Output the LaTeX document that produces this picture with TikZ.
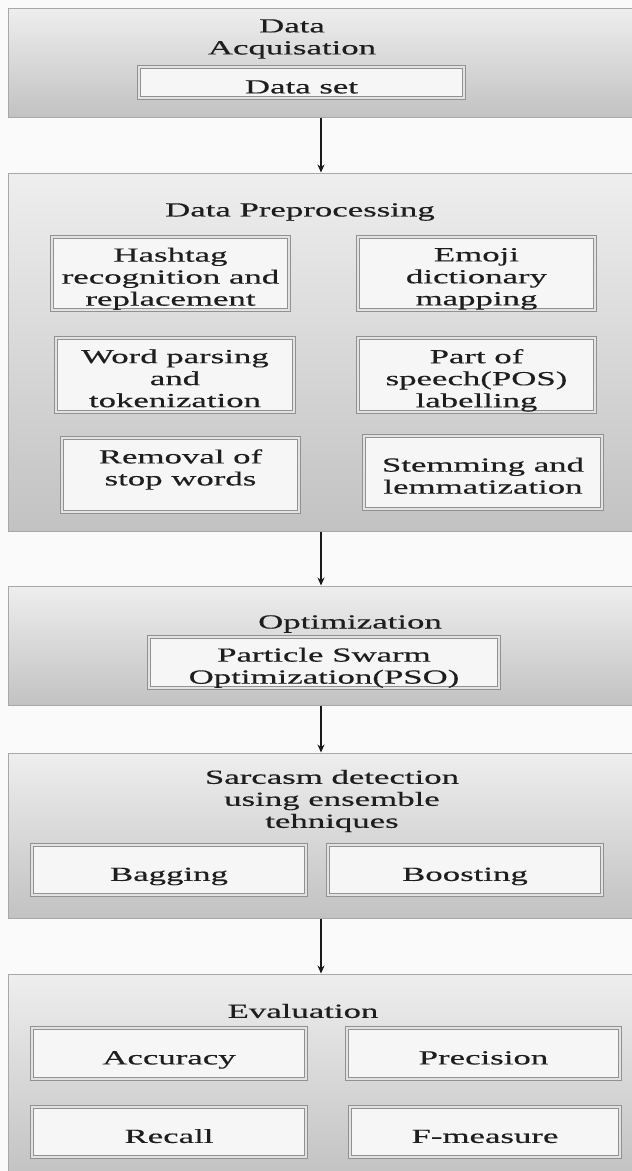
\documentclass[tikz,border=0pt]{standalone}
\usepackage{fontspec}
\setmainfont{Liberation Serif}[FakeStretch=1.74, FakeBold=0.4]
\usetikzlibrary{arrows.meta}
\definecolor{bgc}{RGB}{250,250,250}
\definecolor{topg}{RGB}{238,238,238}
\definecolor{botg}{RGB}{194,194,194}
\definecolor{edgeg}{RGB}{168,168,168}
\definecolor{inbg}{RGB}{246,246,246}
\definecolor{inedge}{RGB}{145,145,145}
\definecolor{ingap}{RGB}{226,226,226}
\definecolor{txtc}{RGB}{30,30,30}
\tikzset{
  outer/.style={draw=edgeg, line width=1pt, top color=topg, bottom color=botg, inner sep=0pt},
  inbox/.style={draw=inedge, line width=0.8pt, double=ingap, double distance=2pt, fill=inbg,
    inner sep=0pt},
  txt/.style={align=center, text=txtc, inner sep=0pt, font=\fontsize{20}{22}\selectfont},
  tl/.style={label={[txt,yshift=-6.5pt]center:{#1\strut}}},
  arr/.style={draw=black!90, line width=1.2pt, -{Stealth[length=8pt,width=7pt]}}
}
\begin{document}
\begin{tikzpicture}[x=1pt,y=-1pt]
\useasboundingbox[fill=bgc] (0,0) rectangle (632,1171);
% outer stages
\node[outer, minimum width=626pt, minimum height=109pt] (acq) at (321,62.5) {};
\node[outer, minimum width=626pt, minimum height=358pt] (prep) at (321,352) {};
\node[outer, minimum width=626pt, minimum height=119pt] (opt) at (321,645.5) {};
\node[outer, minimum width=626pt, minimum height=165pt] (sarc) at (321,835.5) {};
\node[outer, minimum width=626pt, minimum height=206pt] (eval) at (321,1077) {};
% titles
\node[txt] (acqt) at (292,39) {Data\\Acquisation};
\node[txt] (prept) at (300,212) {Data Preprocessing};
\node[txt] (optt) at (350,624) {Optimization};
\node[txt] (sarct) at (332,801) {Sarcasm detection\\using ensemble\\tehniques};
\node[txt] (evalt) at (303,1011) {Evaluation};
% inner boxes
\node[inbox, minimum width=325pt, minimum height=31pt, tl={Data set}] (ds) at (301.5,82.5) {};
\node[inbox, minimum width=237pt, minimum height=73pt, tl={Hashtag\\recognition and\\replacement}] (hash) at (170.5,273.5) {};
\node[inbox, minimum width=237pt, minimum height=73pt, tl={Emoji\\dictionary\\mapping}] (emo) at (476.5,273.5) {};
\node[inbox, minimum width=238pt, minimum height=74pt, tl={Word parsing\\and\\tokenization}] (word) at (175,375) {};
\node[inbox, minimum width=237pt, minimum height=74pt, tl={Part of\\speech(POS)\\labelling}] (pos) at (476.5,375) {};
\node[inbox, minimum width=237pt, minimum height=74pt] (rem) at (180.5,475) {};
\node[txt] (remt) at (180.5,469.5) {Removal of\\stop words};
\node[inbox, minimum width=238pt, minimum height=73pt, tl={Stemming and\\lemmatization}] (stem) at (483,472.5) {};
\node[inbox, minimum width=350pt, minimum height=51pt, tl={Particle Swarm\\Optimization(PSO)}] (pso) at (324,662.5) {};
\node[inbox, minimum width=274pt, minimum height=50pt, tl={Bagging}] (bag) at (169,870) {};
\node[inbox, minimum width=274pt, minimum height=50pt, tl={Boosting}] (boost) at (465,870) {};
\node[inbox, minimum width=274pt, minimum height=51pt, tl={Accuracy}] (acc) at (169,1053.5) {};
\node[inbox, minimum width=273pt, minimum height=51pt, tl={Precision}] (prec) at (483.5,1053.5) {};
\node[inbox, minimum width=274pt, minimum height=50pt, tl={Recall}] (rec) at (169,1132) {};
\node[inbox, minimum width=270pt, minimum height=50pt, tl={F-measure}] (fm) at (485,1132) {};
% arrows
\draw[arr] (acq.south) -- (prep.north);
\draw[arr] (prep.south) -- (opt.north);
\draw[arr] (opt.south) -- (sarc.north);
\draw[arr] (sarc.south) -- (eval.north);
\end{tikzpicture}
\end{document}
